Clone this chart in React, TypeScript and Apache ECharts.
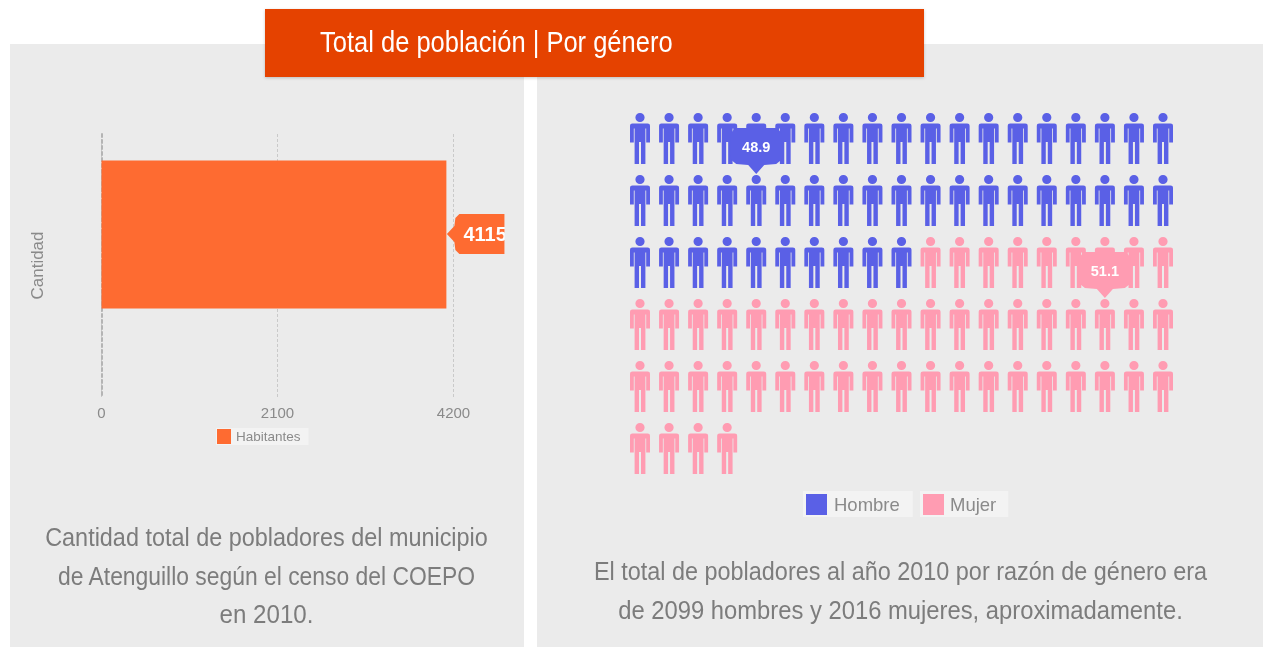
import React, { useEffect, useRef } from "react";
import * as echarts from "echarts";

const title = "Total de población | Por género";
const leftCaption = ["Cantidad total de pobladores del municipio", "de Atenguillo según el censo del COEPO", "en 2010."];
const rightCaption = ["El total de pobladores al año 2010 por razón de género era", "de 2099 hombres y 2016 mujeres, aproximadamente."];

const barCategories = ["Cantidad"];
const habitantes = [4115];
const xTicks = [0, 2100, 4200];

const hombreByRow = [19, 19, 10, 0, 0, 0];
const mujerByRow = [0, 0, 9, 19, 19, 4];
const hombrePct = 48.9;
const mujerPct = 51.1;

const BLUE = "#5a60e6";
const PINK = "#ff9cb2";
const ORANGE = "#fe6b31";
const PANEL = "#ebebeb";
const SANS = "'Liberation Sans', Arial, sans-serif";

const PERSON =
  "path://M10 0a4.5 4.5 0 1 1 0 9a4.5 4.5 0 1 1 0-9ZM2.5 10.5H17.5Q20 10.5 20 13V29.5H16.2V15.5H15.4V51H11V29H9V51H4.6V15.5H3.8V29.5H0V13Q0 10.5 2.5 10.5Z";

function iconPoints(byRow: number[], startCol: number[]) {
  const pts: number[][] = [];
  byRow.forEach((n, r) => {
    for (let i = 0; i < n; i++) pts.push([startCol[r] + i, r]);
  });
  return pts;
}

const bubble = (params: any, api: any) => {
  const [cx, cy] = api.coord([api.value(0), api.value(1)]);
  const color = params.dataIndex === 0 ? BLUE : PINK;
  const tipY = -26.5;
  return {
    type: "group",
    x: cx,
    y: cy + tipY,
    children: [
      {
        type: "polygon",
        shape: {
          points: [
            [0, 0], [-8, -9], [-20, -10], [-25, -14], [-26, -19], [-26, -40], [-21, -46],
            [21, -46], [26, -40], [26, -19], [25, -14], [20, -10], [8, -9],
          ],
        },
        style: { fill: color },
      },
      {
        type: "text",
        x: 0,
        y: -27,
        style: {
          text: String(api.value(2)),
          fill: "#ffffff",
          font: `bold 14.5px ${SANS}`,
          align: "center",
          verticalAlign: "middle",
        },
      },
    ],
  };
};

const barTag = (_params: any, api: any) => {
  const [x, y] = api.coord([api.value(0), api.value(1)]);
  return {
    type: "group",
    x,
    y: y - 31.5,
    children: [
      {
        type: "polygon",
        shape: {
          points: [
            [0.5, 0], [8, -8], [9, -16], [13, -20], [58.5, -20], [58.5, 20], [13, 20], [9, 16], [8, 8],
          ],
        },
        style: { fill: ORANGE },
      },
      {
        type: "text",
        x: 17,
        y: 0,
        style: {
          text: String(api.value(0)),
          fill: "#ffffff",
          font: `bold 20px ${SANS}`,
          align: "left",
          verticalAlign: "middle",
        },
      },
    ],
  };
};

const caption = (lines: string[], x: number, ys: number[], scales: number[]) =>
  lines.map((text, i) => ({
    type: "text",
    x,
    y: ys[i],
    z: 5,
    scaleX: scales[i],
    style: {
      text,
      fill: "#7c7c7c",
      font: `25px ${SANS}`,
      align: "center",
      verticalAlign: "middle",
    },
  }));

export default function App() {
  const ref = useRef<HTMLDivElement>(null);
  useEffect(() => {
    const chart = echarts.init(ref.current!, null, { renderer: "svg" });
    const legendBase = {
      selectedMode: false,
      icon: "rect",
      backgroundColor: "#f3f3f3",
      orient: "horizontal",
    };
    chart.setOption({
      animation: false,
      backgroundColor: "#ffffff",
      textStyle: { fontFamily: SANS },
      grid: [
        { left: 101.5, width: 352, top: 134, height: 263, containLabel: false },
        { left: 640, width: 523, top: 138.5, height: 310 },
      ],
      xAxis: [
        {
          type: "value",
          gridIndex: 0,
          min: 0,
          max: xTicks[xTicks.length - 1],
          interval: xTicks[1],
          position: "bottom",
          axisLine: { show: false },
          axisTick: { show: false },
          axisLabel: {
            color: "#8a8a8a",
            fontSize: 15,
            margin: 8,
            fontFamily: SANS,
            formatter: (v: number) => String(v),
          },
          splitLine: {
            show: true,
            lineStyle: { color: "#c9c9c9", type: [3, 2], width: 1 },
          },
        },
        { type: "value", gridIndex: 1, min: 0, max: 18, show: false },
      ],
      yAxis: [
        {
          type: "category",
          gridIndex: 0,
          inverse: true,
          data: barCategories,
          name: barCategories[0],
          nameLocation: "middle",
          nameRotate: 90,
          nameGap: 56,
          nameTextStyle: { color: "#8a8a8a", fontSize: 17, fontFamily: SANS },
          axisLine: { show: true, lineStyle: { color: "#b4b4b4", type: [3, 3], width: 2 } },
          axisTick: { show: false },
          axisLabel: { show: false },
        },
        { type: "value", gridIndex: 1, min: 0, max: 5, inverse: true, show: false },
      ],
      legend: [
        {
          ...legendBase,
          data: ["Habitantes"],
          left: 216,
          top: 428,
          padding: [1, 8, 1, 1],
          itemWidth: 14,
          itemHeight: 15,
          textStyle: { color: "#8a8a8a", fontSize: 13.5, fontFamily: SANS },
        },
        {
          ...legendBase,
          data: ["Hombre"],
          left: 803,
          top: 491,
          padding: [3, 13, 2, 3],
          itemWidth: 21,
          itemHeight: 21,
          textStyle: { color: "#8a8a8a", fontSize: 18.5, fontFamily: SANS, padding: [0, 0, 0, 2] },
        },
        {
          ...legendBase,
          data: ["Mujer"],
          left: 920,
          top: 491,
          padding: [3, 12, 2, 3],
          itemWidth: 21,
          itemHeight: 21,
          textStyle: { color: "#8a8a8a", fontSize: 18.5, fontFamily: SANS, padding: [0, 0, 0, 1] },
        },
      ],
      series: [
        {
          name: "Habitantes",
          type: "bar",
          xAxisIndex: 0,
          yAxisIndex: 0,
          data: habitantes,
          barWidth: 148,
          barGap: 0,
          itemStyle: { color: ORANGE },
        },
        {
          name: "espacio",
          type: "bar",
          xAxisIndex: 0,
          yAxisIndex: 0,
          data: [null],
          barWidth: 62,
          barGap: 0,
        },
        {
          type: "custom",
          xAxisIndex: 0,
          yAxisIndex: 0,
          renderItem: barTag,
          z: 6,
          clip: false,
          data: [[habitantes[0], 0]],
        },
        {
          name: "Hombre",
          type: "scatter",
          xAxisIndex: 1,
          yAxisIndex: 1,
          symbol: PERSON,
          symbolSize: [20, 51],
          clip: false,
          itemStyle: { color: BLUE, opacity: 1 },
          data: iconPoints(hombreByRow, [0, 0, 0, 0, 0, 0]),
        },
        {
          name: "Mujer",
          type: "scatter",
          xAxisIndex: 1,
          yAxisIndex: 1,
          symbol: PERSON,
          symbolSize: [20, 51],
          clip: false,
          itemStyle: { color: PINK, opacity: 1 },
          data: iconPoints(mujerByRow, hombreByRow),
        },
        {
          type: "custom",
          xAxisIndex: 1,
          yAxisIndex: 1,
          renderItem: bubble,
          z: 6,
          clip: false,
          data: [
            [4, 1, hombrePct],
            [16, 3, mujerPct],
          ],
        },
      ],
      graphic: [
        { type: "rect", z: -10, shape: { x: 10, y: 44, width: 514, height: 603 }, style: { fill: PANEL } },
        { type: "rect", z: -10, shape: { x: 537, y: 44, width: 726, height: 603 }, style: { fill: PANEL } },
        { type: "rect", z: 50, shape: { x: 504.5, y: 205, width: 19.5, height: 60 }, style: { fill: PANEL } },
        {
          type: "rect",
          z: 40,
          shape: { x: 265, y: 9, width: 659, height: 68 },
          style: { fill: "#e54304", shadowBlur: 3, shadowColor: "rgba(0,0,0,0.2)", shadowOffsetY: 1 },
        },
        {
          type: "text",
          z: 41,
          x: 320,
          y: 42,
          scaleX: 0.88,
          style: { text: title, fill: "#ffffff", font: `29px ${SANS}`, align: "left", verticalAlign: "middle" },
        },
        ...caption(leftCaption, 266.5, [537, 576, 614], [0.937, 0.915, 0.965]),
        ...caption(rightCaption, 900.5, [571, 610], [0.937, 0.952]),
      ],
    });
    return () => chart.dispose();
  }, []);
  return (
    <div
      ref={ref}
      style={{ position: "fixed", left: 0, top: 0, width: 1263, height: 647, filter: "blur(0.5px)" }}
    />
  );
}
